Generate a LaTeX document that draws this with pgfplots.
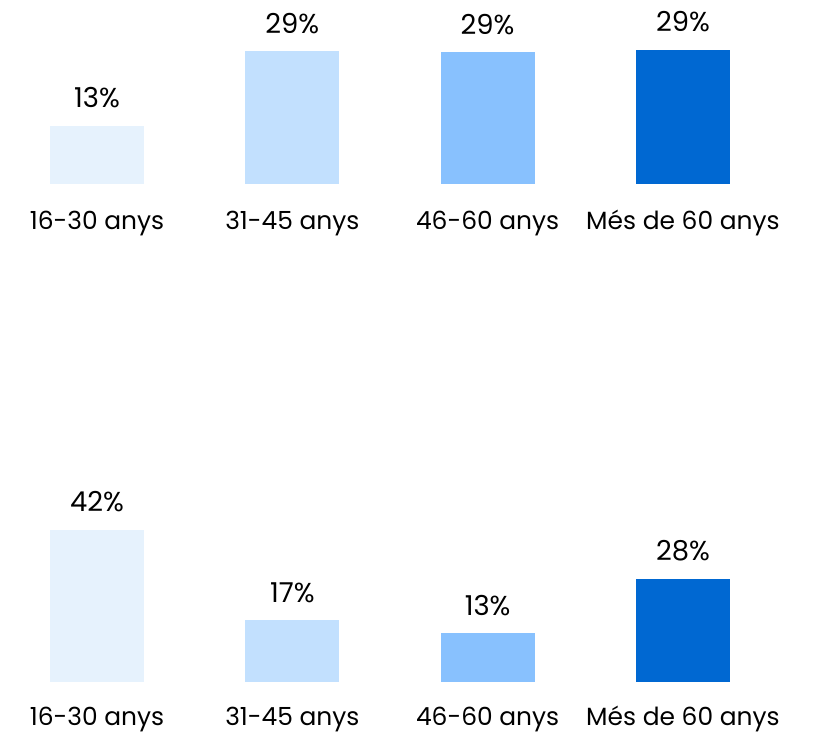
\documentclass[border=0pt]{standalone}
\usepackage{fontspec}
\setmainfont{Poppins}
\usepackage{pgfplots}
\pgfplotsset{compat=1.18}
\definecolor{c1}{RGB}{230,242,253}
\definecolor{c2}{RGB}{194,224,254}
\definecolor{c3}{RGB}{136,193,254}
\definecolor{c4}{RGB}{0,104,210}
\begin{document}
\begin{tikzpicture}
\useasboundingbox (0,0) rectangle (818bp,735bp);
\pgfplotsset{
  panel/.style={
    ybar, bar width=94bp, scale only axis, width=818bp,
    xmin=-0.4967, xmax=3.6917, ymin=0,
    axis line style={draw=none}, tick style={draw=none}, ytick=\empty,
    xtick={0,1,2,3},
    xticklabels={16-30 anys,31-45 anys,46-60 anys,Més de 60 anys},
    xticklabel style={font=\fontsize{25}{30}\selectfont, anchor=center, yshift=-35bp, inner sep=0pt},
    nodes near coords, point meta=explicit symbolic,
    every node near coord/.append style={font=\fontsize{27.5}{32}\selectfont, anchor=base, yshift=18bp, inner sep=0pt, text=black},
    clip=false, anchor=south west,
  },
  barst/.style={draw=none, fill=#1, bar shift=0pt},
}
\begin{axis}[panel, at={(0,551bp)}, height=137.7bp, ymax=30]
\addplot[barst=c1] coordinates {(0,12.7) [13\%]};
\addplot[barst=c2] coordinates {(1,28.9) [29\%]};
\addplot[barst=c3] coordinates {(2,28.7) [29\%]};
\addplot[barst=c4] coordinates {(3,29.2) [29\%]};
\end{axis}
\begin{axis}[panel, at={(0,53bp)}, height=162.9bp, ymax=45,
  xticklabel style={yshift=2bp}]
\addplot[barst=c1] coordinates {(0,42.0) [42\%]};
\addplot[barst=c2] coordinates {(1,17.1) [17\%]};
\addplot[barst=c3] coordinates {(2,13.5) [13\%]};
\addplot[barst=c4] coordinates {(3,28.5) [28\%]};
\end{axis}
\end{tikzpicture}
\end{document}
